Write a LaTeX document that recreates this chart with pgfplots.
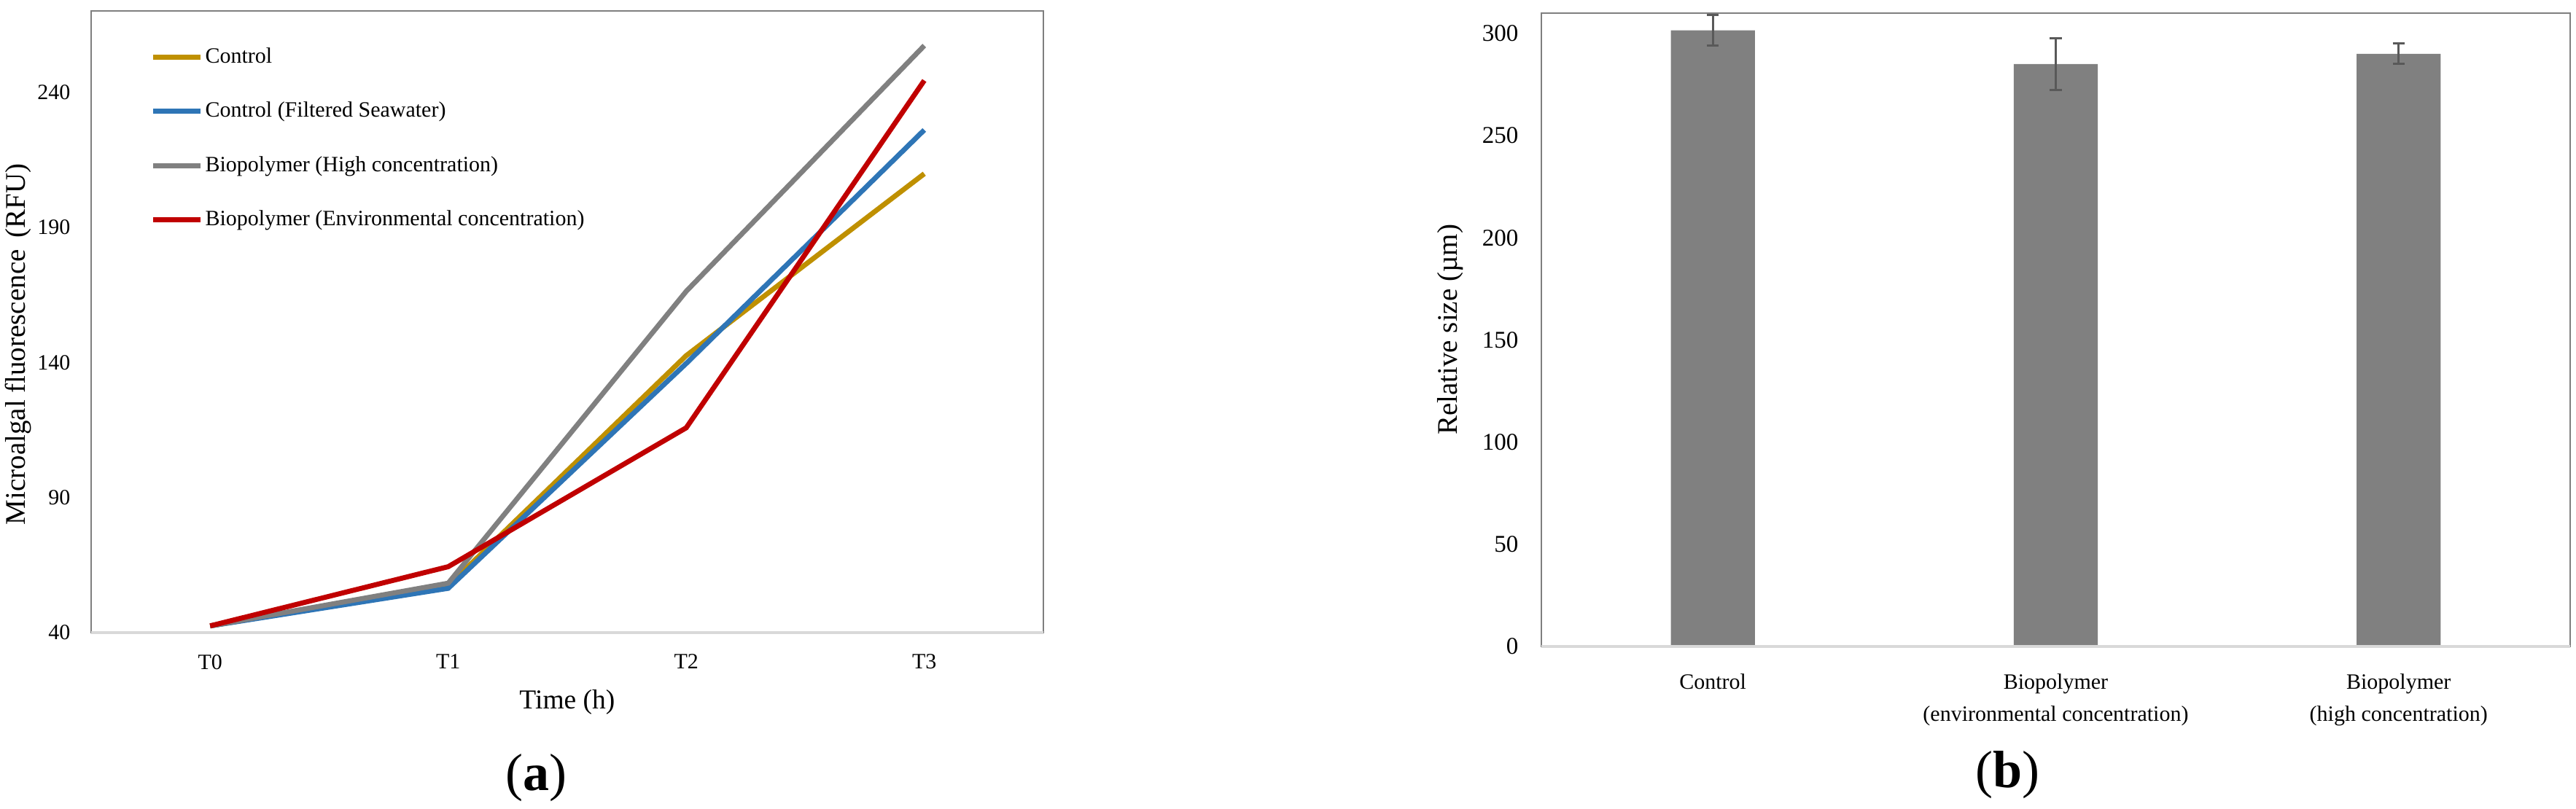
\documentclass[border=0pt]{standalone}
\usepackage{pgfplots}
\pgfplotsset{compat=1.18}
\usepackage{fontspec}
\setmainfont{Liberation Serif}
\definecolor{cgold}{HTML}{BF9000}
\definecolor{cblue}{HTML}{2E75B6}
\definecolor{cgray}{HTML}{808080}
\definecolor{cred}{HTML}{C00000}
\definecolor{frame}{HTML}{7F7F7F}
\definecolor{baseln}{HTML}{D9D9D9}
\definecolor{errc}{HTML}{595959}
\begin{document}
\begin{tikzpicture}
\path[use as bounding box] (0,0) rectangle (1177.67pt,369.67pt);
\begin{axis}[
  at={(41.67pt,80.33pt)}, anchor=south west, scale only axis,
  width=435.3pt, height=284.3pt,
  xmin=-0.5, xmax=3.5, ymin=40, ymax=270,
  xtick={0,1,2,3}, xticklabels={T0,T1,T2,T3},
  ytick={40,90,140,190,240},
  major tick length=0pt,
  clip=false,
  axis line style={frame, line width=0.8pt},
  /pgf/number format/assume math mode=true,
  tick label style={font=\fontsize{10}{12}\selectfont},
  yticklabel style={xshift=-6pt},
  xticklabel style={yshift=-6.5pt},
  xlabel={Time (h)},
  xlabel style={at={(axis description cs:0.5,0)}, anchor=center, yshift=-31.7pt, font=\fontsize{12.5}{14}\selectfont},
  ylabel={Microalgal fluorescence\, (RFU)},
  ylabel style={at={([xshift=-33.3pt]axis description cs:0,0.464)}, anchor=center, font=\fontsize{13}{15}\selectfont},
  legend style={draw=none, fill=none, at={(axis description cs:0.062,0.945)}, anchor=north west,
    font=\fontsize{10}{12}\selectfont, row sep=14.4pt, inner sep=0pt, nodes={inner sep=1pt}},
  legend cell align=left,
  legend image code/.code={\draw[#1] (0pt,0pt) -- (21.7pt,0pt);},
]
\addplot[cgold, line width=2.3pt] coordinates {(0,42.5) (1,57.3) (2,142.5) (3,209.8)};
\addlegendentry{Control}
\addplot[cblue, line width=2.3pt] coordinates {(0,42.5) (1,56.4) (2,139.6) (3,226.0)};
\addlegendentry{Control (Filtered Seawater)}
\addplot[cgray, line width=2.3pt] coordinates {(0,42.5) (1,58.3) (2,166.3) (3,257.2)};
\addlegendentry{Biopolymer (High concentration)}
\addplot[cred, line width=2.3pt] coordinates {(0,42.5) (1,64.4) (2,115.8) (3,244.3)};
\addlegendentry{Biopolymer (Environmental concentration)}
\draw[baseln, line width=1.2pt] (rel axis cs:0,0) -- (rel axis cs:1,0);
\end{axis}
\node[font=\fontsize{24}{26}\selectfont] at (245pt,14pt) {(\textbf{a})};

\begin{axis}[
  at={(704.67pt,74pt)}, anchor=south west, scale only axis,
  width=470.3pt, height=289.7pt,
  xmin=-0.5, xmax=2.5, ymin=0, ymax=310,
  xtick={0,1,2},
  xticklabels={Control, {Biopolymer\\(environmental concentration)}, {Biopolymer\\(high concentration)}},
  ytick={0,50,100,150,200,250,300},
  major tick length=0pt,
  clip=false,
  axis line style={frame, line width=0.8pt},
  /pgf/number format/assume math mode=true,
  yticklabel style={xshift=-7pt, font=\fontsize{11}{13}\selectfont},
  xticklabel style={align=center, yshift=-9pt, font=\fontsize{10}{14.7}\selectfont},
  ylabel={Relative size (µm)},
  ylabel style={at={([xshift=-41.7pt]axis description cs:0,0.5)}, anchor=center, font=\fontsize{13}{15}\selectfont},
  ybar, bar width=0.245,
]
\addplot[fill=cgray, draw=none,
  error bars/.cd, y dir=both, y explicit,
  error bar style={errc, line width=1pt},
  error mark options={errc, rotate=90, mark size=2.7pt, line width=1pt}]
  coordinates {(0,301.5) +- (0,7.5) (1,285.0) +- (0,12.7) (2,290.0) +- (0,5.0)};
\draw[baseln, line width=1.2pt] (rel axis cs:0,0) -- (rel axis cs:1,0);
\end{axis}
\node[font=\fontsize{24}{26}\selectfont] at (917.7pt,15.3pt) {(\textbf{b})};
\end{tikzpicture}
\end{document}
